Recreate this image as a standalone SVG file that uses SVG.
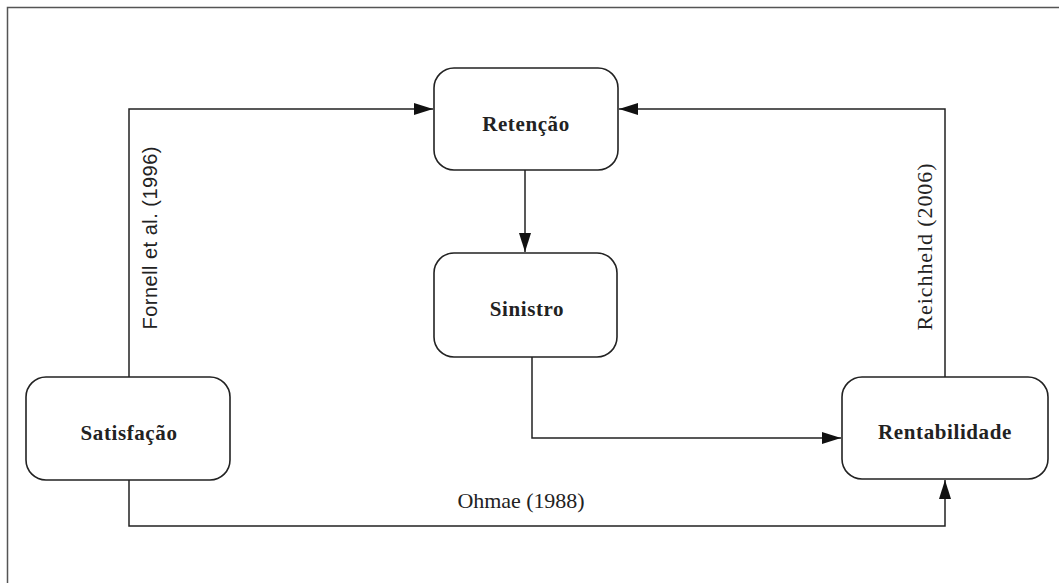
<svg xmlns="http://www.w3.org/2000/svg" width="1059" height="583" viewBox="0 0 1059 583">
<defs>
<style>
.box{fill:#fff;stroke:#222;stroke-width:1.6}
.lbl{font-family:"Liberation Serif","Times New Roman",serif;font-weight:bold;font-size:21px;fill:#222;text-anchor:middle;letter-spacing:0.6px}
.conn{fill:none;stroke:#222;stroke-width:1.5}
.cite{font-family:"Liberation Serif","Times New Roman",serif;font-size:22px;fill:#222;text-anchor:middle}
.cites{font-family:"Liberation Sans",Arial,sans-serif;font-size:20px;fill:#222;text-anchor:middle}
</style>
<marker id="arr" markerUnits="userSpaceOnUse" markerWidth="20" markerHeight="12" refX="19" refY="6" orient="auto">
<path d="M0,0 L19,6 L0,12 z" fill="#111"/>
</marker>
</defs>
<rect width="1059" height="583" fill="#fff"/>
<path d="M7.5,583 V7.5 H1059" fill="none" stroke="#555" stroke-width="1.5"/>
<g id="connectors">
<path class="conn" d="M129,377 V109 H433" marker-end="url(#arr)"/>
<path class="conn" d="M945,377 V109 H619" marker-end="url(#arr)"/>
<path class="conn" d="M525,170 V252" marker-end="url(#arr)"/>
<path class="conn" d="M532,357 V438 H841" marker-end="url(#arr)"/>
<path class="conn" d="M129,480 V526 H945 V480" marker-end="url(#arr)"/>
<text class="cites" transform="translate(157,238) rotate(-90)" textLength="183" lengthAdjust="spacing">Fornell et al. (1996)</text>
<text class="cite" transform="translate(932,247) rotate(-90)" textLength="167" lengthAdjust="spacing">Reichheld (2006)</text>
<text class="cite" x="521" y="508" textLength="127" lengthAdjust="spacing">Ohmae (1988)</text>
</g>
<g id="retencao">
<rect class="box" x="434" y="68" width="184" height="102" rx="20"/>
<text class="lbl" x="526" y="131">Retenção</text>
</g>
<g id="sinistro">
<rect class="box" x="434" y="253" width="183" height="104" rx="20"/>
<text class="lbl" x="527" y="316">Sinistro</text>
</g>
<g id="satisfacao">
<rect class="box" x="26" y="377" width="204" height="103" rx="20"/>
<text class="lbl" x="129" y="440">Satisfação</text>
</g>
<g id="rentabilidade">
<rect class="box" x="842" y="377" width="206" height="102" rx="20"/>
<text class="lbl" x="945" y="439">Rentabilidade</text>
</g>
</svg>
